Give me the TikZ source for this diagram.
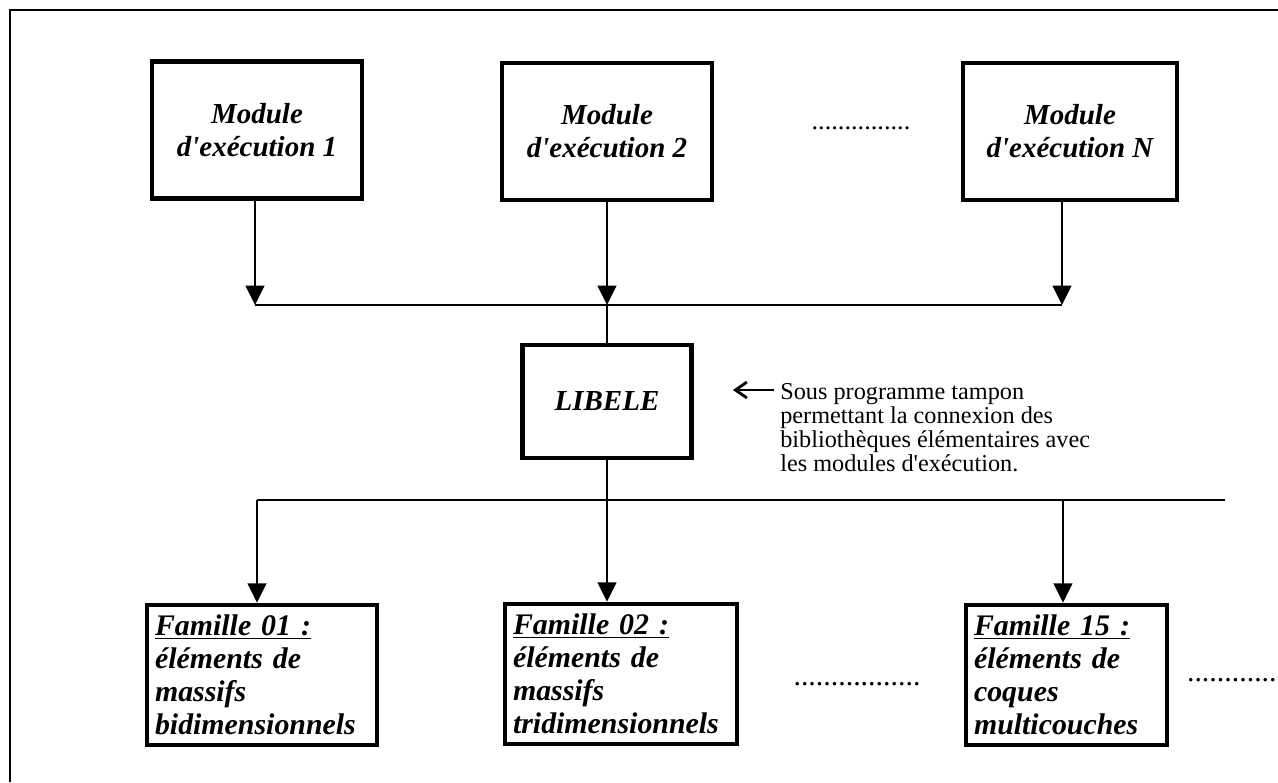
\documentclass[tikz,border=0pt]{standalone}
\usepackage{fontspec}
\setmainfont{Liberation Serif}
\usetikzlibrary{arrows.meta}
\lineskiplimit=-10pt

\begin{document}
\begin{tikzpicture}[x=0.02cm,y=-0.02cm,
  box/.style={draw,line width=2.6pt,inner sep=0pt},
  modbox/.style={box,align=center,minimum height=2.74cm,
    font=\fontsize{16.5}{18.8}\selectfont\bfseries\itshape},
  fambox/.style={box,align=left,inner xsep=0.16cm,minimum height=2.8cm,
    font=\fontsize{17}{18.8}\selectfont\bfseries\itshape},
  conn/.style={line width=1.6pt},
  flow/.style={conn,-{Triangle[length=11pt,width=10.5pt]}},
  pointer/.style={line width=1.6pt,-{Straight Barb[length=6.5pt,width=9pt]}},
  note/.style={align=left,inner sep=0pt,font=\fontsize{13.8}{13.7}\selectfont},
  dots/.style={inner sep=0pt,font=\fontsize{15}{18}\selectfont}]
\useasboundingbox (0,0) rectangle (1278,782);
\draw[line width=1pt] (10,782) -- (10,10) -- (1278,10);

% modules d'execution
\node[modbox,minimum width=4.2cm]  (mod1) at (257,130)    {Module\\d\textquotesingle exécution 1};
\node[modbox,minimum width=4.2cm]  (mod2) at (607,131.5)  {Module\\d\textquotesingle exécution 2};
\node[modbox,minimum width=4.28cm] (modN) at (1070,131.5) {Module\\d\textquotesingle exécution N};
\node[dots] (dotsTop) at (861,128) {...............};

% bus du haut
\coordinate (topL) at (255,305);
\coordinate (topM) at (607,305);
\coordinate (topR) at (1062,305);
\draw[conn] (topL) -- (topR);
\draw[flow] (mod1.south -| topL) -- (topL);
\draw[flow] (mod2.south) -- (topM);
\draw[flow] (modN.south -| topR) -- (topR);

% LIBELE
\node[box,minimum width=3.38cm,minimum height=2.26cm,
  font=\fontsize{16.5}{19}\selectfont\bfseries\itshape] (lib) at (607,401.5) {LIBELE};
\draw[conn] (topM) -- (lib.north);
\node[note,anchor=north west] (note) at (780,383)
  {Sous programme tampon\\permettant la connexion des\\bibliothèques élémentaires avec\\les modules d\textquotesingle exécution.};
\coordinate (ptrS) at (774,390);
\coordinate (ptrE) at (733,390);
\draw[pointer] (ptrS) -- (ptrE);

% bus du bas
\coordinate (botL) at (257,500);
\coordinate (botM) at (607,500);
\coordinate (bot15) at (1063,500);
\coordinate (botR) at (1225,500);
\draw[conn] (lib.south) -- (botM);
\draw[conn] (botL) -- (botR);

% familles
\node[fambox,text width=4.28cm] (fam01) at (262,675)
  {\underline{Famille 01 :}\\éléments de\\massifs\\bidimensionnels};
\node[fambox,text width=4.32cm] (fam02) at (621,674)
  {\underline{Famille 02 :}\\éléments de\\massifs\\tridimensionnels};
\node[fambox,text width=3.7cm] (fam15) at (1066.5,675)
  {\underline{Famille 15 :}\\éléments de\\coques\\multicouches};
\node[dots,font=\fontsize{17}{18}\selectfont] (dotsMid) at (857,684) {.................};
\node[dots,font=\fontsize{17}{18}\selectfont,anchor=east] (dotsR) at (1277,680) {............};

\draw[flow] (botL) -- (botL |- fam01.north);
\draw[flow] (botM) -- (botM |- fam02.north);
\draw[flow] (bot15) -- (bot15 |- fam15.north);
\end{tikzpicture}
\end{document}
